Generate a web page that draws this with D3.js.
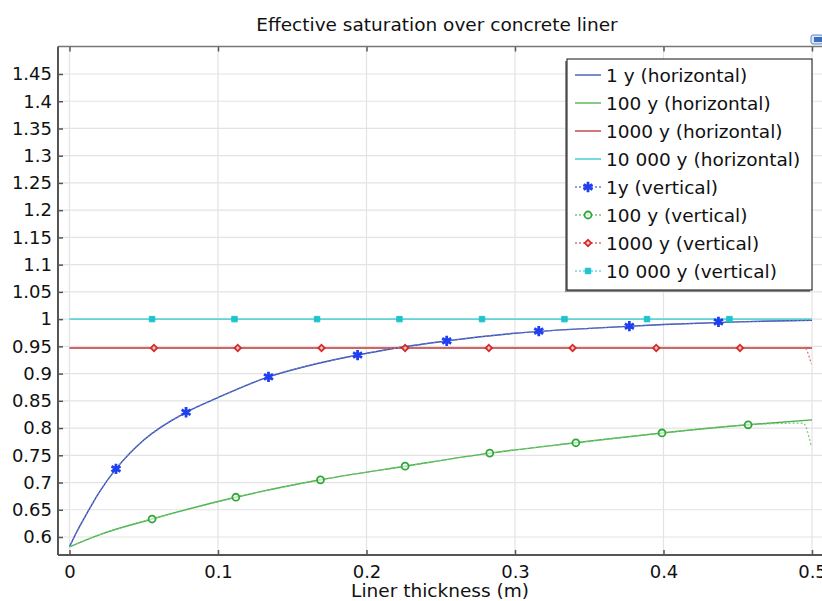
<!DOCTYPE html>
<html>
<head>
<meta charset="utf-8">
<script src="https://cdn.jsdelivr.net/npm/d3@7"></script>
<style>
	body { margin: 0; background: #fff; }
	svg { display: block; font-family: "DejaVu Sans", sans-serif; }
</style>
</head>
<body>
<svg id="chart" width="822" height="601"></svg>
<script>
// ---- data ----
var xTicks = [0, 0.1, 0.2, 0.3, 0.4, 0.5];
var yTicks = [0.6, 0.65, 0.7, 0.75, 0.8, 0.85, 0.9, 0.95, 1, 1.05, 1.1, 1.15, 1.2, 1.25, 1.3, 1.35, 1.4, 1.45];

// horizontal runs (solid lines)
var x1y = [0, 0.005, 0.01, 0.02, 0.0313, 0.05, 0.0785, 0.1, 0.134, 0.16, 0.194, 0.22, 0.254, 0.3, 0.35, 0.4, 0.45, 0.5];
var s1y = [0.582, 0.61, 0.635, 0.682, 0.725, 0.778, 0.829, 0.856, 0.894, 0.914, 0.934, 0.947, 0.960, 0.974, 0.983, 0.990, 0.995, 0.998];
var x100y = [0, 0.02, 0.0556, 0.112, 0.169, 0.226, 0.283, 0.341, 0.399, 0.457, 0.5];
var s100y = [0.582, 0.604, 0.633, 0.673, 0.705, 0.730, 0.754, 0.773, 0.791, 0.806, 0.815];
var x1000y = [0, 0.5];
var s1000y = [0.947, 0.947];
var x10000y = [0, 0.5];
var s10000y = [1.0, 1.0];

// vertical runs: markers
var mx1y = [0.0313, 0.0785, 0.134, 0.194, 0.254, 0.316, 0.377, 0.437];
var ms1y = [0.725, 0.829, 0.894, 0.934, 0.960, 0.978, 0.987, 0.995];
var mx100y = [0.0556, 0.112, 0.169, 0.226, 0.283, 0.341, 0.399, 0.457];
var ms100y = [0.633, 0.673, 0.705, 0.730, 0.754, 0.773, 0.791, 0.806];
var mx1000y = [0.0569, 0.1133, 0.1697, 0.226, 0.2824, 0.3388, 0.3951, 0.4515];
var ms1000y = [0.947, 0.947, 0.947, 0.947, 0.947, 0.947, 0.947, 0.947];
var mx10000y = [0.0556, 0.1111, 0.1667, 0.2222, 0.2778, 0.3333, 0.3889, 0.4444];
var ms10000y = [1, 1, 1, 1, 1, 1, 1, 1];

// vertical runs: dashed lines (end drops at the right edge)
var vx1y = x1y;
var vs1y = s1y;
var vx100y = [0, 0.02, 0.0556, 0.112, 0.169, 0.226, 0.283, 0.341, 0.399, 0.457, 0.494, 0.4993];
var vs100y = [0.582, 0.604, 0.633, 0.673, 0.705, 0.730, 0.754, 0.773, 0.791, 0.806, 0.809, 0.769];
var vx1000y = [0, 0.495, 0.4995];
var vs1000y = [0.947, 0.947, 0.918];
var vx10000y = [0, 0.5];
var vs10000y = [1, 1];

var series = [
	{ name: "1 y (horizontal)", xs: x1y, ys: s1y, color: "#3550b0", dash: null },
	{ name: "100 y (horizontal)", xs: x100y, ys: s100y, color: "#45b045", dash: null },
	{ name: "1000 y (horizontal)", xs: x1000y, ys: s1000y, color: "#b83030", dash: null },
	{ name: "10 000 y (horizontal)", xs: x10000y, ys: s10000y, color: "#2cc6d2", dash: null },
	{ name: "1y (vertical)", xs: vx1y, ys: vs1y, mxs: mx1y, mys: ms1y, color: "#1f3ff0", line: "#6a7fd0", dash: "2,2", marker: "asterisk" },
	{ name: "100 y (vertical)", xs: vx100y, ys: vs100y, mxs: mx100y, mys: ms100y, color: "#2ea836", line: "#7cc87c", dash: "2,2", marker: "circle" },
	{ name: "1000 y (vertical)", xs: vx1000y, ys: vs1000y, mxs: mx1000y, mys: ms1000y, color: "#d42a2a", line: "#e07070", dash: "2,2", marker: "diamond" },
	{ name: "10 000 y (vertical)", xs: vx10000y, ys: vs10000y, mxs: mx10000y, mys: ms10000y, color: "#1ec4cc", line: "#70d8e0", dash: "2,2", marker: "square" }
];

var Chart = {
	plot: { left: 58, top: 46.5, bottom: 555, right: 830 },

	init: function() {
		var self = this;
		var svg = d3.select("#chart");

		// x: 0 -> 69.5 px, 0.5 -> 812 px ; y: 0.6 -> 537 px, 1.45 -> 74 px
		self.x = d3.scaleLinear().domain([0, 0.5]).range([69.5, 812]);
		self.y = d3.scaleLinear().domain([0.6, 1.45]).range([537, 74]);

		self.drawFrame(svg);
		self.drawSeries(svg);
		self.drawLegend(svg);
	},

	drawFrame: function(svg) {
		var self = this;
		var p = self.plot;

		svg.append("text")
			.attr("x", 437)
			.attr("y", 31)
			.attr("text-anchor", "middle")
			.style("font-size", "18.5px")
			.style("fill", "#111")
			.text("Effective saturation over concrete liner");

		// toolbar icon, cut by the right edge
		svg.append("rect")
			.attr("x", 811).attr("y", 35)
			.attr("width", 12).attr("height", 9)
			.attr("rx", 2)
			.style("fill", "#dfe8f6")
			.style("stroke", "#5a86c8");
		svg.append("rect")
			.attr("x", 814).attr("y", 37)
			.attr("width", 8).attr("height", 5)
			.style("fill", "#3a6fc0");

		// grid
		var grid = svg.append("g").attr("class", "grid");
		grid.selectAll("line.vx")
			.data(xTicks)
			.enter()
			.append("line")
			.attr("x1", function(d) { return self.x(d); })
			.attr("x2", function(d) { return self.x(d); })
			.attr("y1", p.top)
			.attr("y2", p.bottom)
			.style("stroke", "#e3e3e3")
			.style("stroke-width", 1.2);
		grid.selectAll("line.hy")
			.data(yTicks)
			.enter()
			.append("line")
			.attr("x1", p.left)
			.attr("x2", p.right)
			.attr("y1", function(d) { return self.y(d); })
			.attr("y2", function(d) { return self.y(d); })
			.style("stroke", "#e3e3e3")
			.style("stroke-width", 1.2);

		// axes, ticks pointing inwards
		var yAxis = d3.axisLeft(self.y)
			.tickValues(yTicks)
			.tickSizeInner(-5)
			.tickSizeOuter(0)
			.tickPadding(6)
			.tickFormat(d3.format("~g"));
		var gy = svg.append("g")
			.attr("transform", "translate(" + p.left + ",0)")
			.call(yAxis);
		gy.select(".domain").remove();

		var xAxis = d3.axisBottom(self.x)
			.tickValues(xTicks)
			.tickSizeInner(-5)
			.tickSizeOuter(0)
			.tickPadding(10)
			.tickFormat(d3.format("~g"));
		var gx = svg.append("g")
			.attr("transform", "translate(0," + p.bottom + ")")
			.call(xAxis);
		gx.select(".domain").remove();

		var xTop = d3.axisTop(self.x)
			.tickValues(xTicks)
			.tickSizeInner(-5)
			.tickSizeOuter(0)
			.tickFormat("");
		var gt = svg.append("g")
			.attr("transform", "translate(0," + p.top + ")")
			.call(xTop);
		gt.select(".domain").remove();

		[gy, gx, gt].forEach(function(g) {
			g.selectAll(".tick line").style("stroke", "#555").style("stroke-width", 1.5);
			g.selectAll(".tick text")
				.style("font-family", "DejaVu Sans, sans-serif")
				.style("font-size", "18px")
				.style("fill", "#111");
		});

		// frame lines
		svg.append("line")
			.attr("x1", p.left).attr("x2", p.right)
			.attr("y1", p.top).attr("y2", p.top)
			.style("stroke", "#777").style("stroke-width", 1.5);
		svg.append("line")
			.attr("x1", p.left).attr("x2", p.right)
			.attr("y1", p.bottom).attr("y2", p.bottom)
			.style("stroke", "#555").style("stroke-width", 2);
		svg.append("line")
			.attr("x1", p.left).attr("x2", p.left)
			.attr("y1", p.top).attr("y2", p.bottom)
			.style("stroke", "#555").style("stroke-width", 2);

		svg.append("text")
			.attr("x", 440)
			.attr("y", 597)
			.attr("text-anchor", "middle")
			.style("font-size", "18.5px")
			.style("fill", "#111")
			.text("Liner thickness (m)");
	},

	symbolFor: function(kind) {
		if (kind == "asterisk") return d3.symbol().type(d3.symbolAsterisk).size(75);
		if (kind == "circle") return d3.symbol().type(d3.symbolCircle).size(38);
		if (kind == "diamond") return d3.symbol().type(d3.symbolDiamond2).size(26);
		return d3.symbol().type(d3.symbolSquare).size(30);
	},

	styleMarker: function(sel, s) {
		if (s.marker == "asterisk")
			sel.style("fill", "none").style("stroke", s.color).style("stroke-width", 2.8);
		else if (s.marker == "square")
			sel.style("fill", s.color).style("stroke", s.color).style("stroke-width", 1);
		else
			sel.style("fill", "#fff").style("fill-opacity", 0.6).style("stroke", s.color).style("stroke-width", 1.8);
	},

	drawSeries: function(svg) {
		var self = this;
		var p = self.plot;

		svg.append("clipPath")
			.attr("id", "plot-clip")
			.append("rect")
			.attr("x", p.left).attr("y", p.top)
			.attr("width", p.right - p.left).attr("height", p.bottom - p.top);

		var g = svg.append("g").attr("clip-path", "url(#plot-clip)");

		var line = d3.line()
			.x(function(d) { return self.x(d[0]); })
			.y(function(d) { return self.y(d[1]); })
			.curve(d3.curveMonotoneX);

		series.forEach(function(s) {
			var pts = d3.zip(s.xs, s.ys);
			g.append("path")
				.datum(pts)
				.attr("d", line)
				.style("fill", "none")
				.style("stroke", s.dash ? s.line : s.color)
				.style("stroke-width", s.dash ? 1.2 : 1.4)
				.style("stroke-dasharray", s.dash);
		});

		series.forEach(function(s) {
			if (!s.marker) return;
			var sym = self.symbolFor(s.marker);
			var m = g.selectAll(null)
				.data(d3.zip(s.mxs, s.mys))
				.enter()
				.append("path")
				.attr("transform", function(d) {
					return "translate(" + self.x(d[0]) + "," + self.y(d[1]) + ")";
				})
				.attr("d", sym);
			self.styleMarker(m, s);
		});
	},

	drawLegend: function(svg) {
		var self = this;
		var box = { x: 567, y: 59, w: 245, h: 231, row: 28, first: 75 };

		var lg = svg.append("g").attr("class", "legend");

		lg.append("rect") // shadow
			.attr("x", box.x - 2).attr("y", box.y + 2)
			.attr("width", box.w).attr("height", box.h)
			.style("fill", "#8a8a8a");
		lg.append("rect")
			.attr("x", box.x).attr("y", box.y)
			.attr("width", box.w).attr("height", box.h)
			.style("fill", "#fff")
			.style("stroke", "#111")
			.style("stroke-width", 1);

		var rows = lg.selectAll("g.row")
			.data(series)
			.enter()
			.append("g")
			.attr("class", "row")
			.attr("transform", function(d, i) {
				return "translate(0," + (box.first + i * box.row) + ")";
			});

		rows.append("line")
			.attr("x1", 575).attr("x2", 601)
			.attr("y1", 0).attr("y2", 0)
			.style("stroke", function(d) { return d.dash ? d.line : d.color; })
			.style("stroke-width", 1.3)
			.style("stroke-dasharray", function(d) { return d.dash; });

		rows.each(function(d) {
			if (!d.marker) return;
			var m = d3.select(this).append("path")
				.attr("transform", "translate(588,0)")
				.attr("d", self.symbolFor(d.marker));
			self.styleMarker(m, d);
		});

		rows.append("text")
			.attr("x", 606)
			.attr("y", 6.5)
			.style("font-size", "18.5px")
			.style("fill", "#111")
			.text(function(d) { return d.name; });
	}
};

Chart.init();
</script>
</body>
</html>
